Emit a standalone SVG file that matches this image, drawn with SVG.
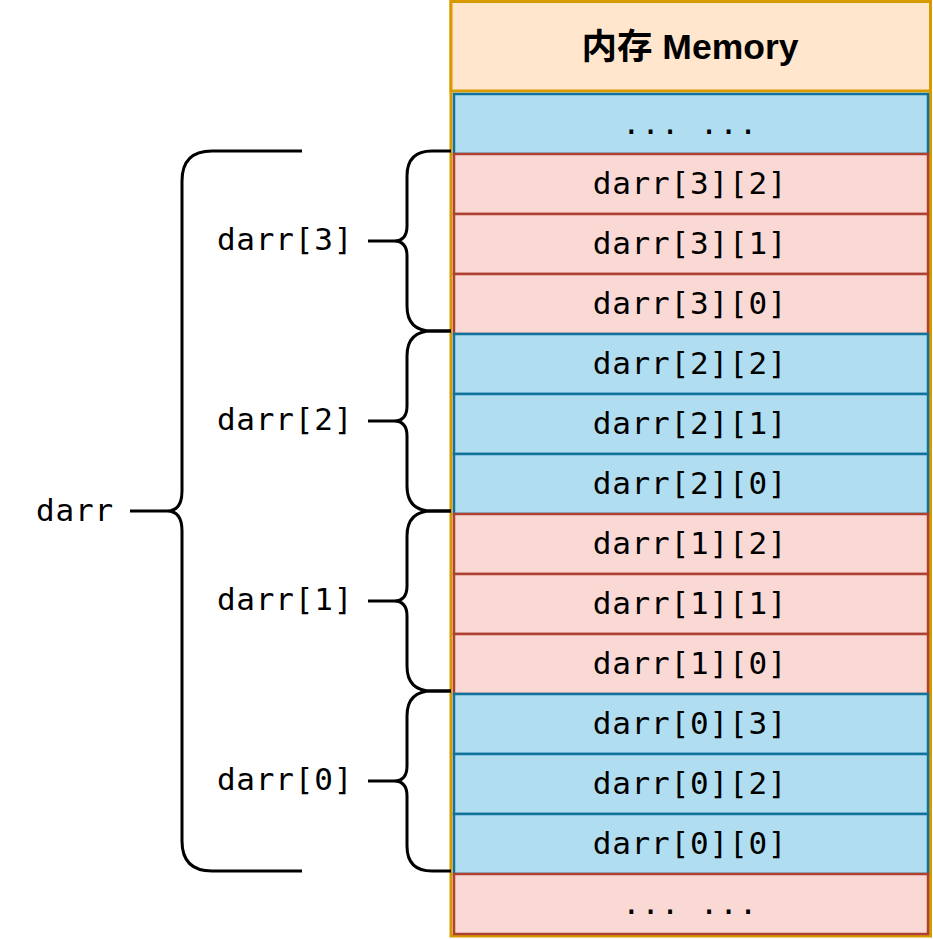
<svg xmlns="http://www.w3.org/2000/svg" width="933" height="939" viewBox="0 0 933 939">
<style>
.mono{font-family:"DejaVu Sans Mono","Liberation Mono",monospace;font-size:31px;letter-spacing:0.8px;fill:#000;text-anchor:middle}
.blue{fill:#b1ddf0;stroke:#10739e;stroke-width:2.5}
.pink{fill:#fad9d5;stroke:#ae4132;stroke-width:2.5}
.brace{fill:none;stroke:#000;stroke-width:3}
</style>
<g id="container">
<rect x="451" y="1.5" width="479.5" height="934.5" fill="#ffffff" stroke="#d79b00" stroke-width="3"/>
<rect x="451" y="1.5" width="479.5" height="89.5" fill="#ffe6cc" stroke="#d79b00" stroke-width="3"/>
<text x="690" y="59" text-anchor="middle" font-family="'Liberation Sans','Noto Sans CJK SC',sans-serif" font-size="35.5" font-weight="bold">内存 Memory</text>
</g>
<g id="cell-top"><rect class="blue" x="454" y="94" width="474" height="60"/><text class="mono" x="690" y="134">... ...</text></g>
<g id="cell-3-2"><rect class="pink" x="454" y="154" width="474" height="60"/><text class="mono" x="690" y="194">darr[3][2]</text></g>
<g id="cell-3-1"><rect class="pink" x="454" y="214" width="474" height="60"/><text class="mono" x="690" y="254">darr[3][1]</text></g>
<g id="cell-3-0"><rect class="pink" x="454" y="274" width="474" height="60"/><text class="mono" x="690" y="314">darr[3][0]</text></g>
<g id="cell-2-2"><rect class="blue" x="454" y="334" width="474" height="60"/><text class="mono" x="690" y="374">darr[2][2]</text></g>
<g id="cell-2-1"><rect class="blue" x="454" y="394" width="474" height="60"/><text class="mono" x="690" y="434">darr[2][1]</text></g>
<g id="cell-2-0"><rect class="blue" x="454" y="454" width="474" height="60"/><text class="mono" x="690" y="494">darr[2][0]</text></g>
<g id="cell-1-2"><rect class="pink" x="454" y="514" width="474" height="60"/><text class="mono" x="690" y="554">darr[1][2]</text></g>
<g id="cell-1-1"><rect class="pink" x="454" y="574" width="474" height="60"/><text class="mono" x="690" y="614">darr[1][1]</text></g>
<g id="cell-1-0"><rect class="pink" x="454" y="634" width="474" height="60"/><text class="mono" x="690" y="674">darr[1][0]</text></g>
<g id="cell-0-3"><rect class="blue" x="454" y="694" width="474" height="60"/><text class="mono" x="690" y="734">darr[0][3]</text></g>
<g id="cell-0-2"><rect class="blue" x="454" y="754" width="474" height="60"/><text class="mono" x="690" y="794">darr[0][2]</text></g>
<g id="cell-0-0"><rect class="blue" x="454" y="814" width="474" height="60"/><text class="mono" x="690" y="854">darr[0][0]</text></g>
<g id="cell-bottom"><rect class="pink" x="454" y="874" width="474" height="60"/><text class="mono" x="690" y="914">... ...</text></g>
<g id="connectors">
<path class="brace" d="M451 151H432Q407 151 407 176V226Q407 241 394 241Q407 241 407 256V306Q407 331 432 331H451M368 241H394"/>
<path class="brace" d="M451 331H432Q407 331 407 356V406Q407 421 394 421Q407 421 407 436V486Q407 511 432 511H451M368 421H394"/>
<path class="brace" d="M451 511H432Q407 511 407 536V586Q407 601 394 601Q407 601 407 616V666Q407 691 432 691H451M368 601H394"/>
<path class="brace" d="M451 691H432Q407 691 407 716V766Q407 781 394 781Q407 781 407 796V846Q407 871 432 871H451M368 781H394"/>
<path class="brace" d="M302 151H212Q182 151 182 181V491Q182 511 167 511Q182 511 182 531V841Q182 871 212 871H302M130 511H167"/>
</g>
<g id="label-darr3"><text class="mono" x="285" y="250">darr[3]</text></g>
<g id="label-darr2"><text class="mono" x="285" y="430">darr[2]</text></g>
<g id="label-darr1"><text class="mono" x="285" y="610">darr[1]</text></g>
<g id="label-darr0"><text class="mono" x="285" y="790">darr[0]</text></g>
<g id="label-darr"><text class="mono" x="75" y="521">darr</text></g>
</svg>
